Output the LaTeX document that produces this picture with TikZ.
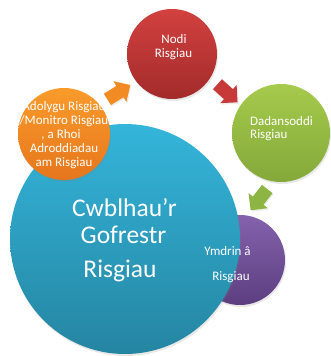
\documentclass[tikz,border=0pt]{standalone}
\usepackage{fontspec}
\setmainfont{Carlito}
\usetikzlibrary{shapes.arrows,shadows}
\definecolor{redT}{HTML}{D1413F}
\definecolor{redB}{HTML}{A32B2B}
\definecolor{grnT}{HTML}{A5CA4C}
\definecolor{grnB}{HTML}{84A93A}
\definecolor{purT}{HTML}{8462AD}
\definecolor{purB}{HTML}{5C3E80}
\definecolor{bluT}{HTML}{34B5DA}
\definecolor{bluB}{HTML}{2585A2}
\definecolor{orgT}{HTML}{FA9B2B}
\definecolor{orgB}{HTML}{E6761C}
\definecolor{arrO}{HTML}{F28B24}
\definecolor{arrR}{HTML}{C8393A}
\definecolor{arrG}{HTML}{8DB543}
\tikzset{
  bubble/.style={circle, inner sep=0pt, draw=none,
    drop shadow={opacity=0.18, shadow xshift=1pt, shadow yshift=-2pt}},
  blockarrow/.style={single arrow, draw=none, inner xsep=0pt, inner ysep=6.5pt,
    minimum height=27pt, single arrow head extend=5.5pt,
    drop shadow={opacity=0.15, shadow xshift=1pt, shadow yshift=-1.5pt}},
  lbl/.style={text=white, inner sep=0pt, font=\fontsize{13}{14}\selectfont, anchor=base},
  biglbl/.style={text=white, inner sep=0pt, font=\fontsize{25.5}{26}\selectfont, anchor=base},
}
\begin{document}
\begin{tikzpicture}[x=1pt, y=-1pt]
\useasboundingbox (0,0) rectangle (331,356);
% arrows
\node[blockarrow, fill=arrO, rotate=32] (a1) at (116,94) {};
\node[blockarrow, fill=arrR, rotate=-42] (a2) at (225,91) {};
\node[blockarrow, fill=arrG, rotate=-128] (a3) at (261,197) {};
% circles
\node[bubble, minimum size=90pt, top color=redT, bottom color=redB] (nodi) at (172,54) {};
\node[bubble, minimum size=98pt, top color=grnT, bottom color=grnB] (dad) at (281,133) {};
\node[bubble, minimum size=90pt, top color=purT, bottom color=purB] (ymd) at (240,260) {};
\node[bubble, minimum size=230pt, top color=bluT, bottom color=bluB] (cwb) at (125,239) {};
\node[bubble, minimum size=92pt, top color=orgT, bottom color=orgB] (ado) at (64,134) {};
% texts
\node[lbl] (t1a) at (174,43.5) {Nodi};
\node[lbl] (t1b) at (173.5,57.5) {Risgiau};
\node[lbl, anchor=base west] (t2a) at (250,125) {Dadansoddi};
\node[lbl, anchor=base west] (t2b) at (250,138.5) {Risgiau};
\node[lbl] (t3a) at (227.5,255) {Ymdrin â};
\node[lbl] (t3b) at (231,280) {Risgiau};
\node[biglbl] (t4a) at (124.5,216.7) {Cwblhau’r};
\node[biglbl] (t4b) at (123.5,243) {Gofrestr};
\node[biglbl] (t4c) at (120,277) {Risgiau};
\node[lbl] (t5a) at (64,110) {Adolygu Risgiau};
\node[lbl] (t5b) at (64,124) {/Monitro Risgiau};
\node[lbl] (t5c) at (61,138) {, a Rhoi};
\node[lbl] (t5d) at (64,152) {Adroddiadau};
\node[lbl] (t5e) at (64,166) {am Risgiau};
\end{tikzpicture}
\end{document}
